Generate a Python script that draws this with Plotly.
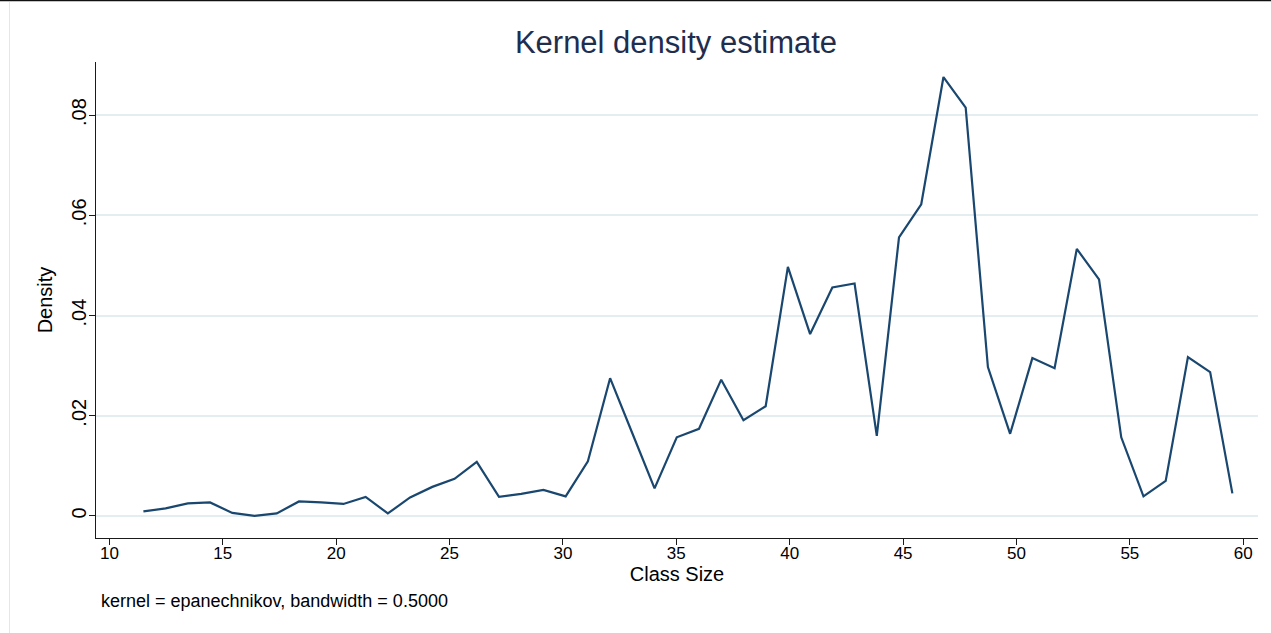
import plotly.graph_objects as go

# Evaluation points (Class Size) and kernel density estimates
class_size = [11.50, 12.48, 13.46, 14.44, 15.42, 16.40, 17.38, 18.36, 19.34, 20.32,
              21.30, 22.28, 23.26, 24.24, 25.22, 26.20, 27.18, 28.16, 29.14, 30.12,
              31.10, 32.08, 33.06, 34.04, 35.02, 36.00, 36.98, 37.96, 38.94, 39.92,
              40.90, 41.88, 42.86, 43.84, 44.82, 45.80, 46.78, 47.76, 48.74, 49.72,
              50.70, 51.68, 52.66, 53.64, 54.62, 55.60, 56.58, 57.56, 58.54, 59.52]
density = [0.0009, 0.0015, 0.0025, 0.0027, 0.0006, 0.0000, 0.0005, 0.0029, 0.0027, 0.0024,
           0.0038, 0.0005, 0.0037, 0.0058, 0.0074, 0.0108, 0.0038, 0.0044, 0.0052, 0.0039,
           0.0109, 0.0275, 0.0165, 0.0055, 0.0157, 0.0174, 0.0272, 0.0191, 0.0219, 0.0497,
           0.0363, 0.0456, 0.0464, 0.0160, 0.0556, 0.0622, 0.0876, 0.0815, 0.0297, 0.0164,
           0.0315, 0.0295, 0.0533, 0.0472, 0.0157, 0.0039, 0.0070, 0.0317, 0.0287, 0.0045]

x_ticks = [10, 15, 20, 25, 30, 35, 40, 45, 50, 55, 60]
y_ticks = [0, 0.02, 0.04, 0.06, 0.08]
y_tick_text = ["0", ".02", ".04", ".06", ".08"]

title_text = "Kernel density estimate"
x_title = "Class Size"
y_title = "Density"
note_text = "kernel = epanechnikov, bandwidth = 0.5000"

FONT = "Arial, Liberation Sans, sans-serif"

fig = go.Figure()
fig.add_trace(go.Scatter(
    x=class_size, y=density, mode="lines",
    line=dict(color="#1a476f", width=2.2),
    showlegend=False, hoverinfo="x+y",
))

W, H = 1271, 633
ml, mr, mt, mb = 96, 13, 62, 95
pw, ph = W - ml - mr, H - mt - mb


def px_x(p):
    return (p - ml) / pw


def px_y(p):
    return (H - mb - p) / ph


fig.update_layout(
    width=W, height=H,
    margin=dict(l=ml, r=mr, t=mt, b=mb, autoexpand=False),
    paper_bgcolor="white", plot_bgcolor="white",
    font=dict(family=FONT, color="#000000"),
    title=dict(text=title_text, x=676 / W, xanchor="center",
               y=1 - 42 / H, yanchor="middle",
               font=dict(size=31, color="#1f2d4e", family=FONT)),
    xaxis=dict(
        range=[9.41, 60.65], tickmode="array", tickvals=x_ticks,
        showgrid=False, zeroline=False,
        showline=True, linecolor="#1a1a1a", linewidth=1.3,
        ticks="outside", ticklen=6, tickwidth=1.3, tickcolor="#1a1a1a",
        tickfont=dict(size=17, color="#000000"),
        ticklabelstandoff=-7,
        title=dict(text=x_title, font=dict(size=20, color="#000000"), standoff=2),
        fixedrange=True,
    ),
    yaxis=dict(
        range=[-0.0044, 0.0906], tickmode="array", tickvals=y_ticks, ticktext=y_tick_text,
        tickangle=-90,
        showgrid=True, gridcolor="#e4eef1", gridwidth=1.5, zeroline=False,
        showline=True, linecolor="#1a1a1a", linewidth=1.3,
        ticks="outside", ticklen=6, tickwidth=1.3, tickcolor="#1a1a1a",
        tickfont=dict(size=20, color="#000000"),
        ticklabelstandoff=-5,
        title=dict(text=y_title, font=dict(size=20, color="#000000"), standoff=9),
        fixedrange=True,
    ),
    annotations=[dict(
        text=note_text, xref="paper", yref="paper",
        x=px_x(99), y=px_y(601), xanchor="left", yanchor="middle",
        showarrow=False, font=dict(size=18, color="#000000", family=FONT),
    )],
    shapes=[
        dict(type="line", xref="paper", yref="paper",
             x0=px_x(0), x1=px_x(W), y0=px_y(0.5), y1=px_y(0.5),
             line=dict(color="#111111", width=1.5)),
        dict(type="line", xref="paper", yref="paper",
             x0=px_x(9.5), x1=px_x(9.5), y0=px_y(2), y1=px_y(H),
             line=dict(color="#e6e6e6", width=1)),
    ],
)

fig.write_html(
    "out.html",
    config={"displayModeBar": False},
    post_script="document.body.style.margin='0';document.body.style.padding='0';",
)
